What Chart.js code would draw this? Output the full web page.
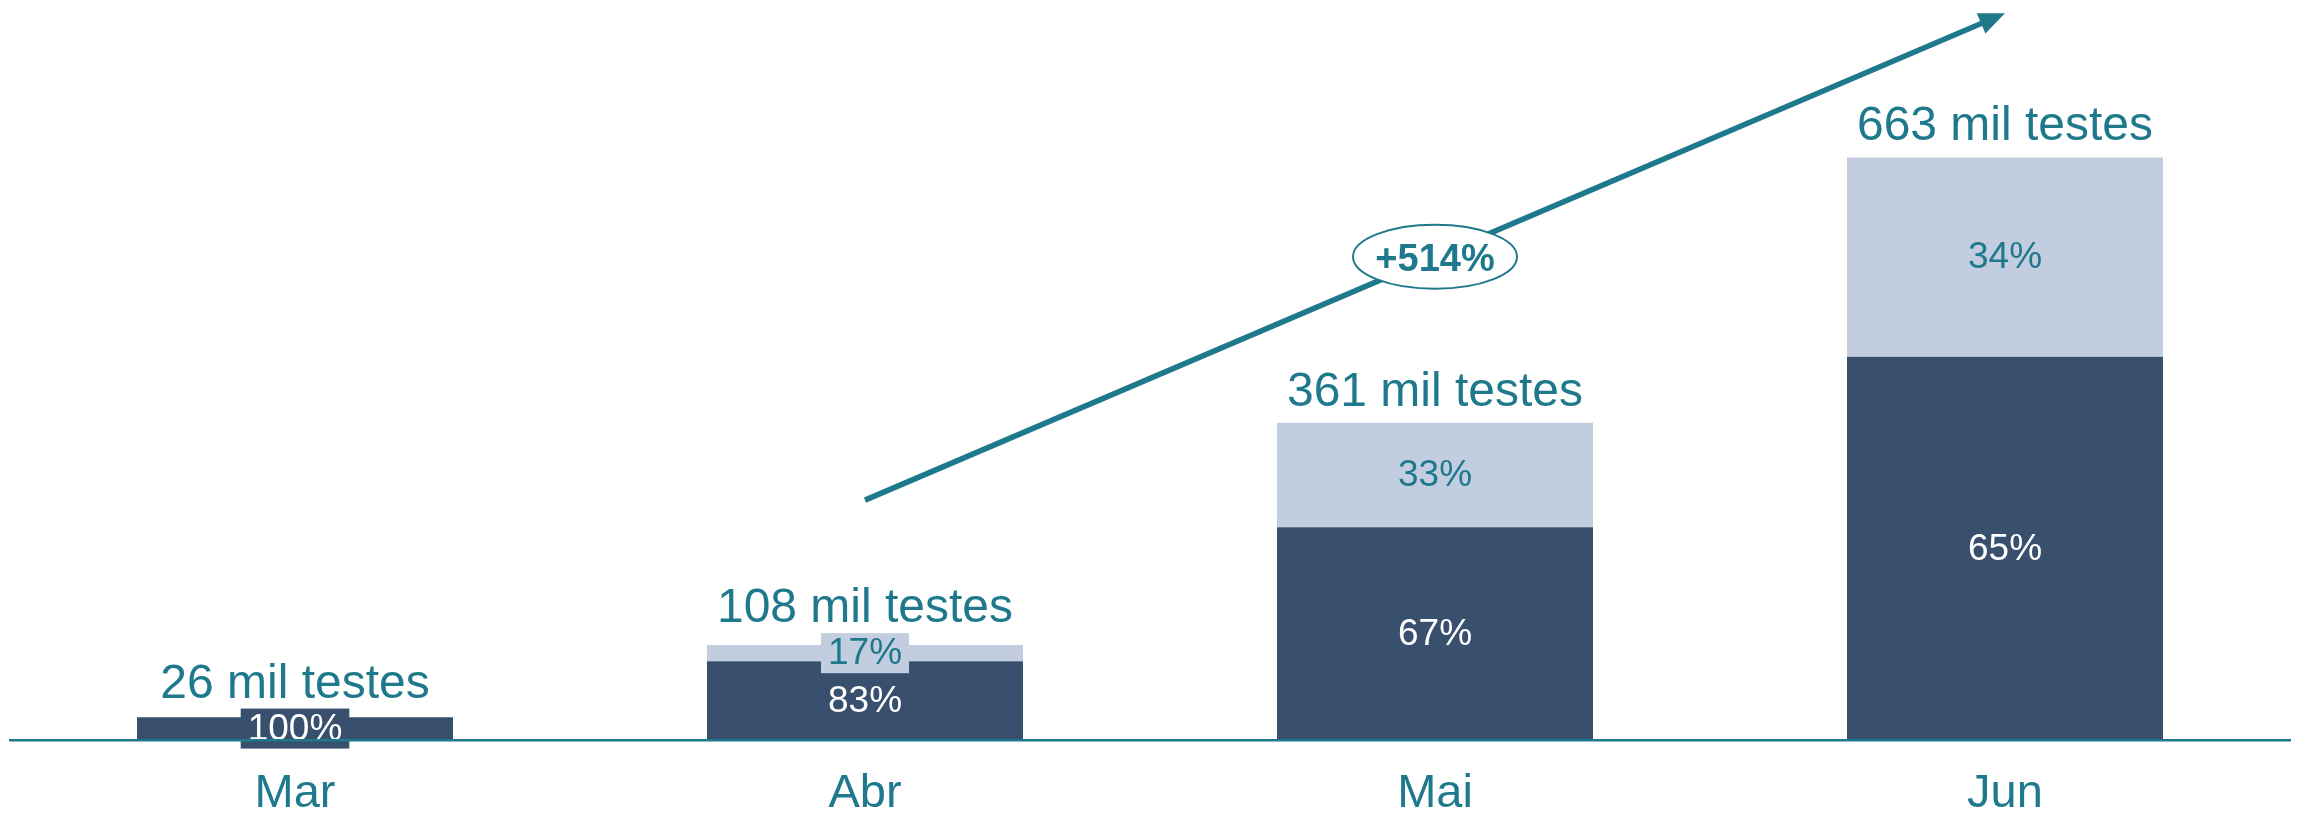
<!DOCTYPE html>
<html>
<head>
<meta charset="utf-8">
<script src="https://cdn.jsdelivr.net/npm/chart.js@4.4.1/dist/chart.umd.min.js"></script>
<style>
  html, body { margin: 0; padding: 0; background: #ffffff; }
  #wrap { width: 2297px; height: 818px; position: relative; }
</style>
</head>
<body>
<div id="wrap"><canvas id="c" width="2297" height="818"></canvas></div>
<script>
// ---- data ----
const months = ['Mar', 'Abr', 'Mai', 'Jun'];
const totalLabels = ['26 mil testes', '108 mil testes', '361 mil testes', '663 mil testes'];
const darkValues = [26, 89.6, 242, 436];
const lightValues = [0, 18.4, 119, 227];
const darkShare = ['100%', '83%', '67%', '65%'];
const lightShare = [null, '17%', '33%', '34%'];
const growthLabel = '+514%';
const arrowFrom = [1, 273];   // [category index, value]
const arrowTo = [3, 827];

// ---- style ----
const DARK = '#384f6e';
const LIGHT = '#c3cde0';
const TEAL = '#1f798c';
const FONT = '"Liberation Sans", Arial, sans-serif';

const labelPlugin = {
  id: 'labels',
  afterDatasetsDraw(chart) {
    const ctx = chart.ctx;
    const metaD = chart.getDatasetMeta(0);
    const metaL = chart.getDatasetMeta(1);
    ctx.save();
    ctx.textAlign = 'center';
    for (let i = 0; i < months.length; i++) {
      const bd = metaD.data[i];
      const bl = metaL.data[i];
      let boxTop = Infinity;
      ctx.font = '37px ' + FONT;
      ctx.textBaseline = 'middle';
      const dTop = bd.y, dBot = bd.base;
      const dMid = (dTop + dBot) / 2;
      const dText = darkShare[i];
      if (dBot - dTop < 44) {
        const w = ctx.measureText(dText).width + 14;
        ctx.fillStyle = DARK;
        ctx.fillRect(bd.x - w / 2, dMid - 20, w, 40);
        boxTop = Math.min(boxTop, dMid - 20);
      }
      ctx.fillStyle = '#ffffff';
      ctx.fillText(dText, bd.x, dMid + 1);
      let topY = dTop;
      if (lightShare[i] && lightValues[i] > 0) {
        const lTop = bl.y, lBot = bl.base;
        const lMid = (lTop + lBot) / 2;
        topY = lTop;
        if (lBot - lTop < 44) {
          const w = ctx.measureText(lightShare[i]).width + 14;
          ctx.fillStyle = LIGHT;
          ctx.fillRect(bl.x - w / 2, lMid - 20, w, 40);
          boxTop = Math.min(boxTop, lMid - 20);
        }
        ctx.fillStyle = TEAL;
        ctx.fillText(lightShare[i], bl.x, lMid + 1);
      }
      ctx.font = '48px ' + FONT;
      ctx.textBaseline = 'alphabetic';
      ctx.fillStyle = TEAL;
      const base = Math.min(topY - 17, boxTop - 11);
      ctx.fillText(totalLabels[i], bd.x, base);
    }
    ctx.restore();
  },
  afterDraw(chart) {
    const ctx = chart.ctx;
    const xs = chart.scales.x, ys = chart.scales.y;
    const x1 = xs.getPixelForValue(arrowFrom[0]), y1 = ys.getPixelForValue(arrowFrom[1]);
    const x2 = xs.getPixelForValue(arrowTo[0]), y2 = ys.getPixelForValue(arrowTo[1]);
    const ang = Math.atan2(y2 - y1, x2 - x1);
    const headLen = 26, headW = 11;
    ctx.save();
    ctx.strokeStyle = TEAL;
    ctx.fillStyle = TEAL;
    ctx.lineWidth = 5.5;
    ctx.beginPath();
    ctx.moveTo(x1, y1);
    ctx.lineTo(x2 - Math.cos(ang) * headLen * 0.8, y2 - Math.sin(ang) * headLen * 0.8);
    ctx.stroke();
    ctx.beginPath();
    ctx.moveTo(x2, y2);
    ctx.lineTo(x2 - Math.cos(ang) * headLen - Math.sin(ang) * headW, y2 - Math.sin(ang) * headLen + Math.cos(ang) * headW);
    ctx.lineTo(x2 - Math.cos(ang) * headLen + Math.sin(ang) * headW, y2 - Math.sin(ang) * headLen - Math.cos(ang) * headW);
    ctx.closePath();
    ctx.fill();
    const cx = (x1 + x2) / 2, cy = (y1 + y2) / 2;
    ctx.beginPath();
    ctx.ellipse(cx, cy, 82, 32, 0, 0, Math.PI * 2);
    ctx.fillStyle = '#ffffff';
    ctx.fill();
    ctx.lineWidth = 2;
    ctx.strokeStyle = TEAL;
    ctx.stroke();
    ctx.fillStyle = TEAL;
    ctx.font = 'bold 38px ' + FONT;
    ctx.textAlign = 'center';
    ctx.textBaseline = 'middle';
    ctx.fillText(growthLabel, cx, cy + 4);
    ctx.restore();
  }
};

new Chart(document.getElementById('c'), {
  type: 'bar',
  data: {
    labels: months,
    datasets: [
      { label: 'dark', data: darkValues, backgroundColor: DARK, borderWidth: 0 },
      { label: 'light', data: lightValues, backgroundColor: LIGHT, borderWidth: 0 }
    ]
  },
  options: {
    responsive: false,
    animation: false,
    devicePixelRatio: 1,
    layout: { padding: { top: 37, left: 10, right: 7, bottom: 0 } },
    datasets: { bar: { barPercentage: 1, categoryPercentage: 0.5544 } },
    plugins: { legend: { display: false }, tooltip: { enabled: false } },
    scales: {
      x: {
        stacked: true,
        grid: { display: false, drawTicks: false },
        border: { display: true, color: TEAL, width: 2.5, z: 1 },
        ticks: { color: TEAL, font: { family: FONT, size: 47 }, padding: 26 },
        afterFit(scale) { scale.height = 78; }
      },
      y: {
        stacked: true,
        display: false,
        min: 0,
        max: 800
      }
    }
  },
  plugins: [labelPlugin]
});
</script>
</body>
</html>
